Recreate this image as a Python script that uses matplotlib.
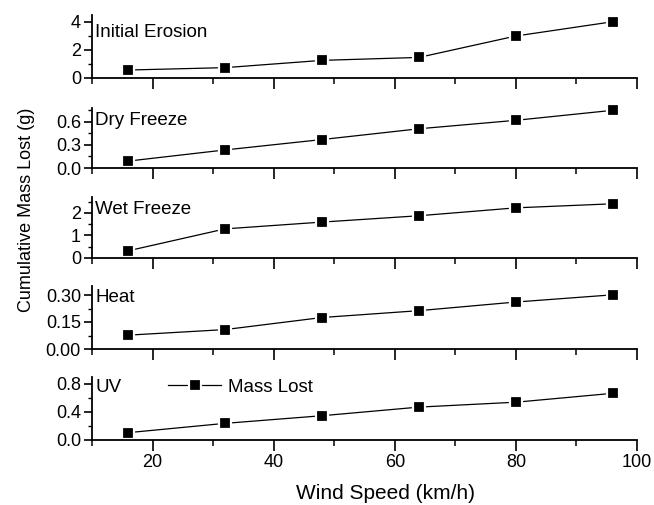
#!/usr/bin/env python3
"""Cumulative mass lost vs wind speed, five stacked weathering panels."""

import matplotlib
matplotlib.use("Agg")
import matplotlib.pyplot as plt
from matplotlib.ticker import MultipleLocator

plt.rcParams["font.family"] = ["Liberation Sans", "DejaVu Sans"]

wind_speed = [16, 32, 48, 64, 80, 96]

panel_names = ["Initial Erosion", "Dry Freeze", "Wet Freeze", "Heat", "UV"]
initial_erosion = [0.57, 0.74, 1.26, 1.47, 3.0, 4.02]
dry_freeze = [0.09, 0.235, 0.37, 0.51, 0.62, 0.75]
wet_freeze = [0.32, 1.29, 1.59, 1.87, 2.22, 2.40]
heat = [0.077, 0.108, 0.175, 0.213, 0.261, 0.301]
uv = [0.105, 0.238, 0.347, 0.47, 0.54, 0.667]
series = [initial_erosion, dry_freeze, wet_freeze, heat, uv]

# axis settings per panel: (ymax, major step)
y_max = [4.5, 0.78, 2.7, 0.35, 0.9]
y_step = [2, 0.3, 1, 0.15, 0.4]
y_fmt = ["{:.0f}", "{:.1f}", "{:.0f}", "{:.2f}", "{:.1f}"]

W, H = 654, 505
left_px, right_px = 92, 637
bottoms_px = [78, 168, 258, 349, 440]
tops_px = [15, 108, 197, 286, 377]
label_y = [0.72, 0.8, 0.79, 0.81, 0.83]

fig = plt.figure(figsize=(W / 100, H / 100), dpi=100)

for i, name in enumerate(panel_names):
    ax = fig.add_axes([left_px / W, 1 - bottoms_px[i] / H,
                       (right_px - left_px) / W,
                       (bottoms_px[i] - tops_px[i]) / H])
    line, = ax.plot(wind_speed, series[i], color="black", lw=0.9,
                    marker="s", ms=8.5, mfc="black", mec="white", mew=1.6,
                    label="Mass Lost", clip_on=False)
    ax.set_xlim(10, 100)
    ax.set_ylim(0, y_max[i])
    for s in ("top", "right"):
        ax.spines[s].set_visible(False)
    for s in ("left", "bottom"):
        ax.spines[s].set_linewidth(1.3)
    ax.xaxis.set_major_locator(MultipleLocator(20))
    ax.xaxis.set_minor_locator(MultipleLocator(10))
    ax.yaxis.set_major_locator(MultipleLocator(y_step[i]))
    ax.yaxis.set_minor_locator(MultipleLocator(y_step[i] / 2))
    ax.yaxis.set_major_formatter(plt.FuncFormatter(
        lambda v, p, f=y_fmt[i]: f.format(v)))
    ax.tick_params(axis="both", which="major", direction="out", width=1.2,
                   labelsize=13, pad=2)
    ax.tick_params(axis="x", which="major", length=8)
    ax.tick_params(axis="x", which="minor", length=4, width=1.1)
    ax.tick_params(axis="y", which="major", length=6)
    ax.tick_params(axis="y", which="minor", length=3, width=1.0)
    if i < 4:
        ax.tick_params(axis="x", labelbottom=False)
    ax.text(0.006, label_y[i], name, transform=ax.transAxes, fontsize=13.5,
            va="center", ha="left")
    if i == 4:
        ax.legend(handles=[line], loc="center left", frameon=False,
                  bbox_to_anchor=(0.14, 0.84), fontsize=13.5,
                  handlelength=2.8, handletextpad=0.4, borderpad=0,
                  borderaxespad=0)
        ax.set_xlabel("Wind Speed (km/h)", fontsize=15)
        ax.xaxis.set_label_coords(0.538, -0.7)

fig.text(0.04, 0.584, "Cumulative Mass Lost (g)", rotation=90,
         fontsize=13, ha="center", va="center")

fig.savefig("out.png", dpi=100)
